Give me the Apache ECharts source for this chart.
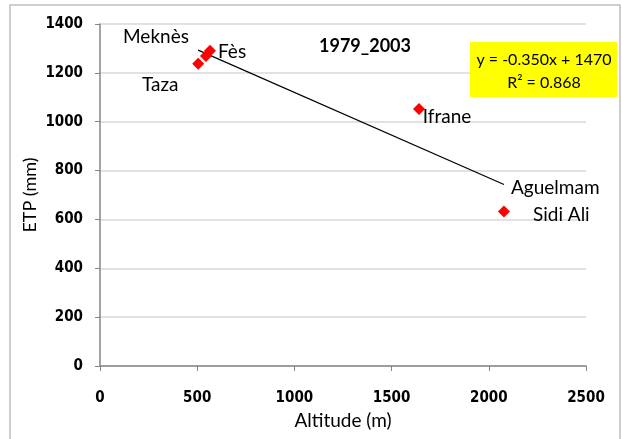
<!DOCTYPE html>
<html><head><meta charset="utf-8">
<script src="https://cdn.jsdelivr.net/npm/echarts@6/dist/echarts.min.js"></script>
<style>html,body{margin:0;padding:0;background:#fff}#c{width:622px;height:439px}</style>
</head><body><div id="c"></div>
<script>
const stations = ['Taza', 'Meknès', 'Fès', 'Ifrane', 'Aguelmam\nSidi Ali'];
const altitude = [505, 545, 566, 1641, 2078];
const etp = [1237, 1269, 1290, 1052, 632];
const trendSlope = -0.350;
const trendIntercept = 1470;
const xTicks = [0, 500, 1000, 1500, 2000, 2500];
const yTicks = [0, 200, 400, 600, 800, 1000, 1200, 1400];
const title = '1979_2003';
const eqText = 'y = -0.350x + 1470\nR² = 0.868';

const FONT = 'Lato, "Open Sans", sans-serif';
const TICKFONT = '"Liberation Sans Narrow", "DejaVu Sans Condensed", sans-serif';
const LS = 19;
const labelPos = [
  {offset: [-38, 21], align: 'center'},
  {offset: [-50, -19], align: 'center'},
  {offset: [22, 1], align: 'center'},
  {offset: [28, 8], align: 'center'},
  {offset: [7, -10], align: 'left'}
];
const pts = altitude.map((a, i) => {
  const parts = stations[i].split('\n');
  const fmt = parts.length > 1 ? '{a|' + parts[0] + '}\n{b|' + parts[1] + '}' : stations[i];
  return {
    value: [a, etp[i]],
    label: {show: true, formatter: fmt, position: 'inside', offset: labelPos[i].offset,
      align: labelPos[i].align, color: '#000', fontSize: LS, fontFamily: FONT, lineHeight: 27,
      textBorderWidth: 0,
      rich: {a: {fontSize: LS, fontFamily: FONT, color: '#000', lineHeight: 27},
             b: {fontSize: LS, fontFamily: FONT, color: '#000', lineHeight: 27, padding: [0, 0, 0, 22]}}}
  };
});
const xmin = Math.min(...altitude), xmax = Math.max(...altitude);
const trend = [[xmin, trendSlope * xmin + trendIntercept], [xmax, trendSlope * xmax + trendIntercept]];

const chart = echarts.init(document.getElementById('c'));
chart.setOption({
  animation: false,
  backgroundColor: '#fff',
  grid: {left: 100, top: 24, right: 36, bottom: 73, outerBoundsMode: 'none', containLabel: false},
  title: {text: title, left: 360, top: 32, textAlign: 'center',
    textStyle: {fontSize: 18, fontWeight: 'bold', fontFamily: FONT, color: '#000'}},
  xAxis: {type: 'value', min: xTicks[0], max: xTicks[xTicks.length - 1], interval: 500,
    name: 'Altitude (m)', nameLocation: 'middle', nameGap: 45, nameMoveOverlap: false,
    nameTextStyle: {fontSize: 19, fontFamily: FONT, color: '#000'},
    axisLine: {lineStyle: {color: '#868686', width: 1.5}},
    axisTick: {show: true, length: 5, lineStyle: {color: '#868686'}},
    axisLabel: {fontSize: 15, fontWeight: 'bold', fontFamily: TICKFONT, color: '#000', margin: 25,
      formatter: v => String(v)},
    splitLine: {show: false}},
  yAxis: {type: 'value', min: yTicks[0], max: yTicks[yTicks.length - 1], interval: 200,
    name: 'ETP (mm)', nameLocation: 'middle', nameGap: 61, nameRotate: 90, nameMoveOverlap: false,
    nameTextStyle: {fontSize: 18, fontFamily: FONT, color: '#000'},
    axisLine: {show: true, lineStyle: {color: '#868686', width: 1.5}},
    axisTick: {show: true, inside: false, length: 5, lineStyle: {color: '#868686'}},
    axisLabel: {fontSize: 15, fontWeight: 'bold', fontFamily: TICKFONT, color: '#000', margin: 17,
      formatter: v => String(v)},
    splitLine: {show: true, lineStyle: {color: '#d9d9d9', width: 1.5}}},
  series: [
    {type: 'line', data: trend, symbol: 'none', lineStyle: {color: '#000', width: 1.2}, z: 2},
    {type: 'scatter', data: pts, symbol: 'diamond', symbolSize: 12,
      itemStyle: {color: '#ff0000', opacity: 1}, z: 3}
  ],
  graphic: [
    {type: 'rect', shape: {x: 10, y: 5, width: 610, height: 440},
      style: {fill: 'none', stroke: '#bfbfbf', lineWidth: 1.5}, silent: true},
    {type: 'rect', shape: {x: 470, y: 42, width: 147, height: 55},
      style: {fill: '#ffff00'}, z: 10},
    {type: 'text', x: 544, y: 71, z: 11,
      style: {text: eqText, align: 'center', verticalAlign: 'middle', fontSize: 16,
        fontFamily: FONT, fill: '#000', lineHeight: 23}}
  ]
});
</script></body></html>
